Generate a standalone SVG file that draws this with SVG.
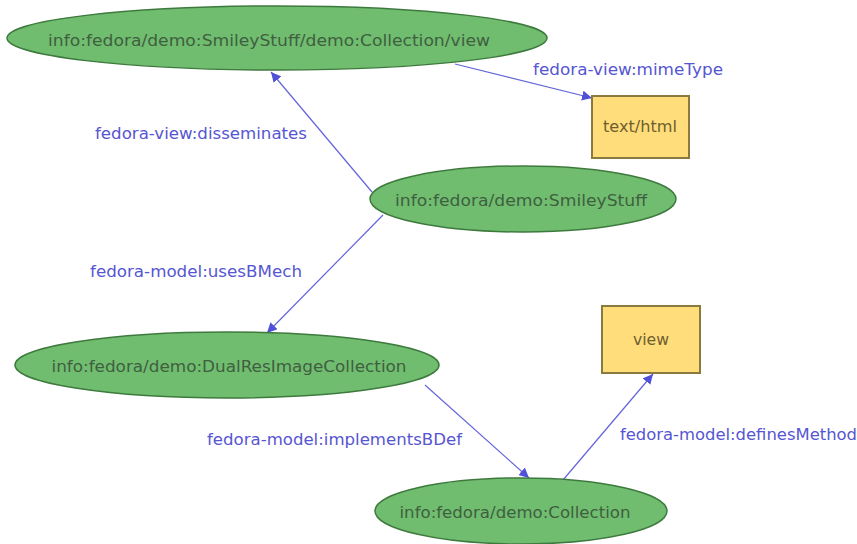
<svg xmlns="http://www.w3.org/2000/svg" width="857" height="544" viewBox="0 0 857 544">
<style>
.node ellipse{fill:#70bd70;stroke:#3e7a3e;stroke-width:1.5}
.node rect{fill:#ffdd7a;stroke:#8a7a3e;stroke-width:2}
.nt{font-family:"DejaVu Sans","Liberation Sans",sans-serif;font-size:15px;fill:#3f5f3f;text-anchor:middle}
.bt{font-family:"DejaVu Sans","Liberation Sans",sans-serif;font-size:15px;fill:#6e5e30;text-anchor:middle}
.lbl{font-family:"DejaVu Sans","Liberation Sans",sans-serif;font-size:15px;fill:#5656d2}
.edges line{stroke:#6464dc;stroke-width:1.2}
</style>
<defs>
<marker id="arr" viewBox="0 0 10 10" refX="10" refY="5" markerWidth="10" markerHeight="10" markerUnits="userSpaceOnUse" orient="auto">
<path d="M0,0 L10,5 L0,10 z" fill="#5050d8"/>
</marker>
</defs>
<g class="edges">
<line x1="455" y1="64" x2="592" y2="98" marker-end="url(#arr)"/>
<line x1="372" y1="192" x2="271" y2="72" marker-end="url(#arr)"/>
<line x1="383" y1="215" x2="267" y2="333" marker-end="url(#arr)"/>
<line x1="425" y1="385" x2="529" y2="478" marker-end="url(#arr)"/>
<line x1="563" y1="480" x2="653" y2="374" marker-end="url(#arr)"/>
<text class="lbl" x="533" y="75" textLength="190" lengthAdjust="spacingAndGlyphs">fedora-view:mimeType</text>
<text class="lbl" x="95" y="139" textLength="212" lengthAdjust="spacingAndGlyphs">fedora-view:disseminates</text>
<text class="lbl" x="90" y="277" textLength="212" lengthAdjust="spacingAndGlyphs">fedora-model:usesBMech</text>
<text class="lbl" x="207" y="445" textLength="255" lengthAdjust="spacingAndGlyphs">fedora-model:implementsBDef</text>
<text class="lbl" x="620" y="440" textLength="237" lengthAdjust="spacingAndGlyphs">fedora-model:definesMethod</text>
</g>
<g id="n-view-disseminator" class="node">
<ellipse cx="277" cy="38" rx="270" ry="32"/>
<text class="nt" x="269" y="46" textLength="442" lengthAdjust="spacingAndGlyphs">info:fedora/demo:SmileyStuff/demo:Collection/view</text>
</g>
<g id="n-texthtml" class="node">
<rect x="592" y="96" width="97" height="62"/>
<text class="bt" x="640" y="132" textLength="74" lengthAdjust="spacingAndGlyphs">text/html</text>
</g>
<g id="n-smiley" class="node">
<ellipse cx="523" cy="199" rx="153" ry="33"/>
<text class="nt" x="521" y="206" textLength="252" lengthAdjust="spacingAndGlyphs">info:fedora/demo:SmileyStuff</text>
</g>
<g id="n-dualres" class="node">
<ellipse cx="227" cy="365" rx="212" ry="33"/>
<text class="nt" x="229" y="372" textLength="355" lengthAdjust="spacingAndGlyphs">info:fedora/demo:DualResImageCollection</text>
</g>
<g id="n-viewbox" class="node">
<rect x="602" y="306" width="98" height="67"/>
<text class="bt" x="651" y="345" textLength="36" lengthAdjust="spacingAndGlyphs">view</text>
</g>
<g id="n-collection" class="node">
<ellipse cx="521" cy="511" rx="146" ry="33"/>
<text class="nt" x="515" y="518" textLength="231" lengthAdjust="spacingAndGlyphs">info:fedora/demo:Collection</text>
</g>
</svg>
